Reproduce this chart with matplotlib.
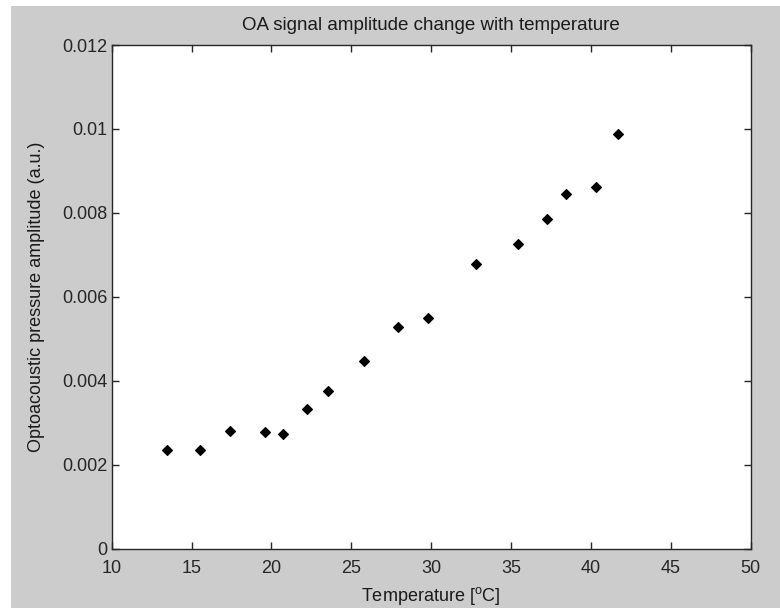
import matplotlib
matplotlib.use("Agg")
import matplotlib.pyplot as plt
from matplotlib.patches import Rectangle

# Measured OA amplitude versus water temperature
temperature = [13.45, 15.54, 17.42, 19.59, 20.70, 22.20, 23.56, 25.80, 27.91,
               29.77, 32.82, 35.41, 37.25, 38.46, 40.30, 41.68]
amplitude = [0.00234, 0.00234, 0.00281, 0.00277, 0.00274, 0.00334, 0.00376,
             0.00447, 0.00527, 0.00549, 0.00679, 0.00725, 0.00785, 0.00844,
             0.00862, 0.00989]

x_ticks = [10, 15, 20, 25, 30, 35, 40, 45, 50]
y_ticks = [0, 0.002, 0.004, 0.006, 0.008, 0.010, 0.012]
y_tick_labels = ["0", "0.002", "0.004", "0.006", "0.008", "0.01", "0.012"]

plt.rcParams["font.family"] = ["Liberation Sans", "DejaVu Sans"]

fig = plt.figure(figsize=(7.8, 6.08), dpi=100, facecolor="white")
fig.patches.append(Rectangle((11 / 780, 0), 1, 1 - 6 / 608,
                             transform=fig.transFigure, facecolor="#cccccc",
                             edgecolor="none", zorder=-10))

ax = fig.add_axes([111.7 / 780, (608 - 548.7) / 608,
                   (750.7 - 111.7) / 780, (548.7 - 45) / 608])
ax.set_facecolor("white")

ax.plot(temperature, amplitude, linestyle="none", marker="D",
        markersize=4.8, color="black", markeredgewidth=0.8)

ax.set_xlim(10, 50)
ax.set_ylim(0, 0.012)
ax.set_xticks(x_ticks)
ax.set_xticklabels([str(t) for t in x_ticks])
ax.set_yticks(y_ticks)
ax.set_yticklabels(y_tick_labels)

ax.tick_params(direction="in", length=5, width=1, top=True, right=True,
               labelsize=13, colors="#262626", pad=3)
ax.tick_params(axis="x", pad=8)
for spine in ax.spines.values():
    spine.set_color("#262626")
    spine.set_linewidth(1)

ax.set_title("OA signal amplitude change with temperature", fontsize=13.5,
             color="#1a1a1a", pad=11)
ax.set_xlabel("Temperature [$\\mathregular{^{o}}$C]", fontsize=13,
              color="#1a1a1a", labelpad=6)
ax.set_ylabel("Optoacoustic pressure amplitude (a.u.)", fontsize=13,
              color="#1a1a1a", labelpad=12)

fig.savefig("out.png", dpi=100, facecolor=fig.get_facecolor())
